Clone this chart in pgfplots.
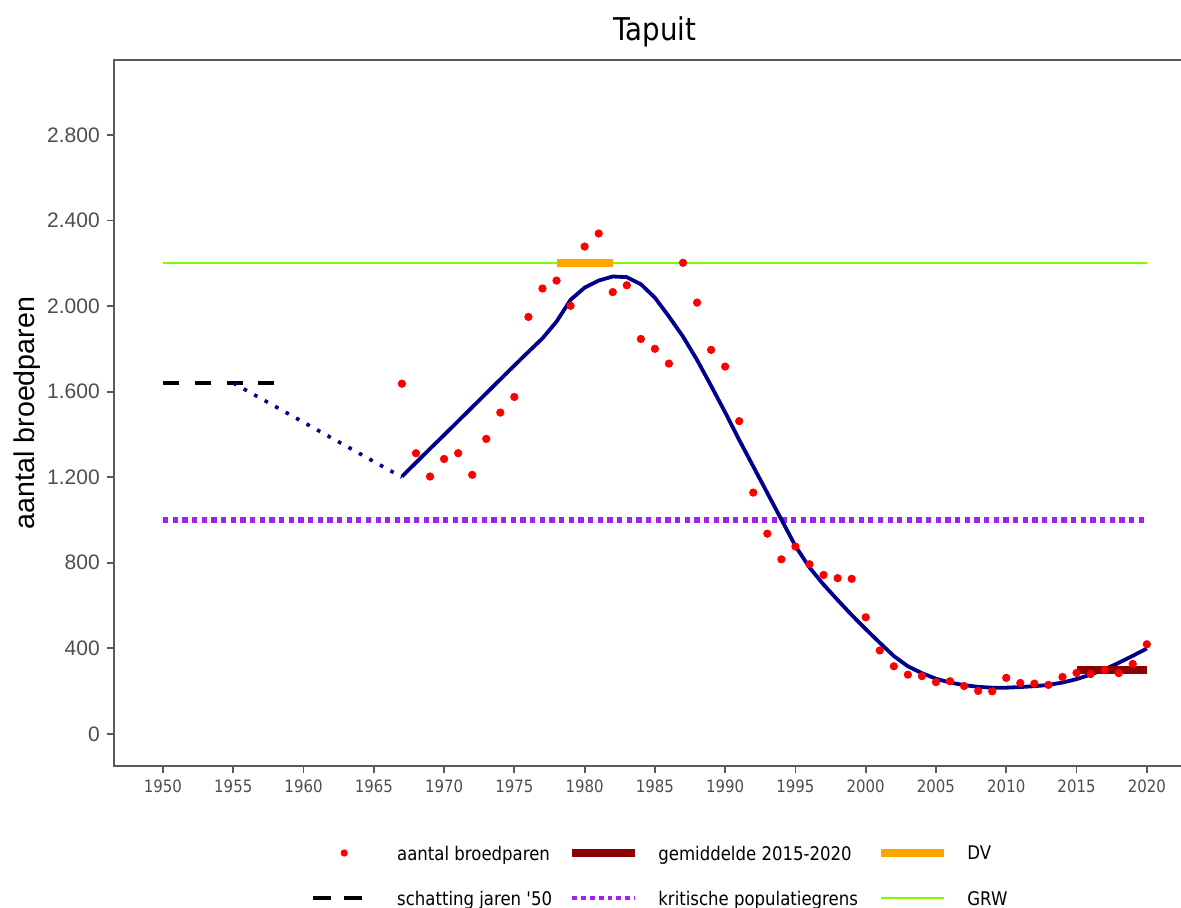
\documentclass[border=0pt]{standalone}
\usepackage{fontspec}
\setmainfont{Liberation Sans}
\newfontfamily\tah[FakeStretch=0.88]{DejaVu Sans}
\usepackage{pgfplots}
\usepackage{pgfplotstable}
\pgfplotsset{compat=1.18}

\definecolor{navy}{HTML}{00008B}
\definecolor{dred}{HTML}{8B0000}
\definecolor{orng}{HTML}{FFA500}
\definecolor{lgreen}{HTML}{7CFC00}
\definecolor{purp}{HTML}{A020F0}
\definecolor{axgray}{HTML}{595959}
\definecolor{tickgray}{HTML}{4D4D4D}

\pgfplotstableread{
year value
1967 1637
1968 1312
1969 1203
1970 1285
1971 1312
1972 1211
1973 1379
1974 1502
1975 1575
1976 1949
1977 2082
1978 2119
1979 2001
1980 2278
1981 2339
1982 2065
1983 2097
1984 1846
1985 1800
1986 1731
1987 2202
1988 2016
1989 1795
1990 1717
1991 1462
1992 1128
1993 936
1994 816
1995 876
1996 793
1997 743
1998 728
1999 725
2000 545
2001 390
2002 316
2003 277
2004 270
2005 242
2006 246
2007 224
2008 201
2009 199
2010 262
2011 238
2012 235
2013 229
2014 266
2015 285
2016 280
2017 299
2018 284
2019 327
2020 419
}\points

\pgfplotstableread{
year value
1967 1203
1968 1268
1969 1333
1970 1397
1971 1462
1972 1527
1973 1592
1974 1657
1975 1722
1976 1786
1977 1849
1978 1927
1979 2029
1980 2086
1981 2119
1982 2138
1983 2135
1984 2102
1985 2039
1986 1951
1987 1857
1988 1748
1989 1627
1990 1503
1991 1374
1992 1250
1993 1126
1994 1002
1995 878
1996 778
1997 698
1998 626
1999 556
2000 490
2001 426
2002 364
2003 316
2004 284
2005 258
2006 240
2007 228
2008 220
2009 216
2010 216
2011 219
2012 223
2013 229
2014 240
2015 256
2016 277
2017 302
2018 332
2019 365
2020 399
}\trend

\begin{document}
\begin{tikzpicture}
\begin{axis}[
  at={(0pt,0pt)}, anchor=south west,
  scale only axis, width=541.1pt, height=353pt,
  xmin=1946.5, xmax=2023.5, ymin=-150, ymax=3150,
  axis line style={axgray, line width=0.9pt},
  tick style={axgray, line width=0.9pt},
  tick align=outside, major tick length=3.5pt,
  xtick pos=bottom, ytick pos=left,
  xtick={1950,1955,...,2020}, ytick={0,400,...,2800},
  minor tick num=0,
  /pgf/number format/assume math mode=true,
  x tick label style={/pgf/number format/1000 sep={}, font=\tah\fontsize{8.5}{10}\selectfont, text=tickgray},
  y tick label style={/pgf/number format/1000 sep={.}, font=\fontsize{10.5}{12}\selectfont, text=tickgray},
  ylabel={aantal broedparen},
  ylabel style={at={(axis description cs:-0.0802,0.5)}, anchor=center, font=\fontsize{14.3}{16}\selectfont},
  title={Tapuit},
  title style={at={(axis description cs:0.5,1)}, anchor=base, yshift=3.5pt, font=\tah\fontsize{15.7}{18}\selectfont},
  legend columns=3,
  legend cell align=left,
  legend style={at={(axis description cs:0.18222,-0.0857)}, anchor=north west, draw=none, fill=none,
    inner sep=0pt, outer sep=0pt, row sep=0pt, column sep=0pt,
    nodes={inner sep=0pt, font=\tah\fontsize{9.4}{11}\selectfont}},
]
\addplot[lgreen, line width=1.15pt, forget plot] coordinates {(1950,2200) (2020,2200)};
\addplot[purp, line width=2.65pt, dash pattern=on 2.65pt off 2.18pt, forget plot] coordinates {(1950,1000) (2020,1000)};
\addplot[black, line width=2.2pt, dash pattern=on 8pt off 7.9pt, forget plot] coordinates {(1950,1640) (1958,1640)};
\addplot[navy, line width=1.8pt, dash pattern=on 1.8pt off 4.2pt, forget plot] coordinates {(1955,1640) (1967,1200)};
\addplot[navy, line width=1.9pt, line join=round, forget plot] table[x=year, y=value] {\trend};
\addplot[orng, line width=3.9pt, forget plot] coordinates {(1978,2200) (1982,2200)};
\addplot[dred, line width=4.2pt, forget plot] coordinates {(2015,300) (2020,300)};
\addplot[only marks, mark=*, mark size=1.85pt, red, mark options={draw=red, fill=red}, forget plot] table[x=year, y=value] {\points};

\addlegendimage{legend image code/.code={\path[draw=none,fill=none] (0pt,-8.45pt) rectangle (42pt,14.05pt); \fill[red] (15.5pt,0.8pt) circle (1.6pt);}}
\addlegendentry{\makebox[85.5pt][l]{aantal broedparen}}
\addlegendimage{legend image code/.code={\path[draw=none,fill=none] (0pt,-8.45pt) rectangle (43pt,14.05pt); \draw[dred, line width=4.2pt] (0pt,0.8pt) -- (31.5pt,0.8pt);}}
\addlegendentry{\makebox[109.5pt][l]{gemiddelde 2015-2020}}
\addlegendimage{legend image code/.code={\path[draw=none,fill=none] (0pt,-8.45pt) rectangle (43pt,14.05pt); \draw[orng, line width=4pt] (0pt,0.8pt) -- (31.5pt,0.8pt);}}
\addlegendentry{DV}
\addlegendimage{legend image code/.code={\path[draw=none,fill=none] (0pt,-8.45pt) rectangle (42pt,14.05pt); \draw[black, line width=2.2pt] (0pt,0.8pt) -- (9pt,0.8pt) (15.5pt,0.8pt) -- (24.5pt,0.8pt);}}
\addlegendentry{\makebox[85.5pt][l]{schatting jaren '50}}
\addlegendimage{legend image code/.code={\path[draw=none,fill=none] (0pt,-8.45pt) rectangle (43pt,14.05pt); \draw[purp, line width=2.4pt, dash pattern=on 2.4pt off 2pt] (0pt,0.8pt) -- (31.5pt,0.8pt);}}
\addlegendentry{\makebox[109.5pt][l]{kritische populatiegrens}}
\addlegendimage{legend image code/.code={\path[draw=none,fill=none] (0pt,-8.45pt) rectangle (43pt,14.05pt); \draw[lgreen, line width=1.15pt] (0pt,0.8pt) -- (31.5pt,0.8pt);}}
\addlegendentry{GRW}
\end{axis}
\pgfresetboundingbox
\path[use as bounding box] (-56.9pt,-71pt) rectangle (533.6pt,383pt);
\end{tikzpicture}
\end{document}
